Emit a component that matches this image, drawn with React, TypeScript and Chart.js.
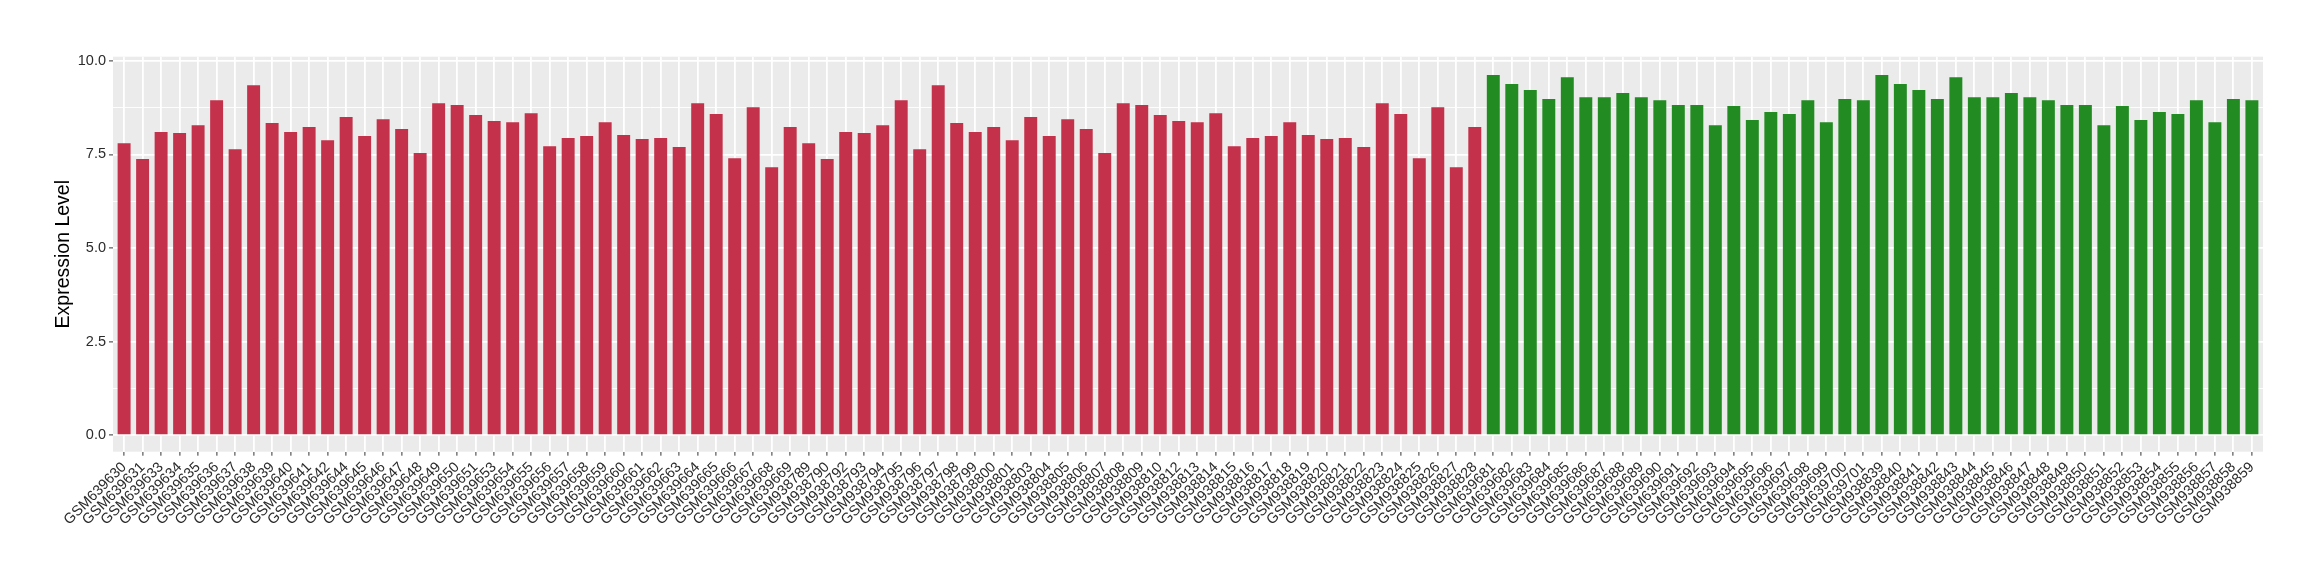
import React, { useEffect, useRef } from 'react';
import { Chart, registerables } from 'chart.js';

Chart.register(...registerables);

const groupASamples = [
  'GSM639630', 'GSM639631', 'GSM639633', 'GSM639634', 'GSM639635', 'GSM639636', 'GSM639637', 'GSM639638',
  'GSM639639', 'GSM639640', 'GSM639641', 'GSM639642', 'GSM639644', 'GSM639645', 'GSM639646', 'GSM639647',
  'GSM639648', 'GSM639649', 'GSM639650', 'GSM639651', 'GSM639653', 'GSM639654', 'GSM639655', 'GSM639656',
  'GSM639657', 'GSM639658', 'GSM639659', 'GSM639660', 'GSM639661', 'GSM639662', 'GSM639663', 'GSM639664',
  'GSM639665', 'GSM639666', 'GSM639667', 'GSM639668', 'GSM639669',
  'GSM938789', 'GSM938790', 'GSM938792', 'GSM938793', 'GSM938794', 'GSM938795', 'GSM938796', 'GSM938797',
  'GSM938798', 'GSM938799', 'GSM938800', 'GSM938801', 'GSM938803', 'GSM938804', 'GSM938805', 'GSM938806',
  'GSM938807', 'GSM938808', 'GSM938809', 'GSM938810', 'GSM938812', 'GSM938813', 'GSM938814', 'GSM938815',
  'GSM938816', 'GSM938817', 'GSM938818', 'GSM938819', 'GSM938820', 'GSM938821', 'GSM938822', 'GSM938823',
  'GSM938824', 'GSM938825', 'GSM938826', 'GSM938827', 'GSM938828',
];

const groupAValues = [
  7.80, 7.38, 8.10, 8.07, 8.28, 8.95, 7.64, 9.35, 8.34, 8.10, 8.23, 7.88, 8.50, 7.99, 8.44, 8.18,
  7.54, 8.87, 8.82, 8.55, 8.39, 8.36, 8.60, 7.72, 7.94, 7.99, 8.36, 8.02, 7.91, 7.94, 7.70, 8.87,
  8.58, 7.40, 8.76, 7.16, 8.23,
  7.80, 7.38, 8.10, 8.07, 8.28, 8.95, 7.64, 9.35, 8.34, 8.10, 8.23, 7.88, 8.50, 7.99, 8.44, 8.18,
  7.54, 8.87, 8.82, 8.55, 8.39, 8.36, 8.60, 7.72, 7.94, 7.99, 8.36, 8.02, 7.91, 7.94, 7.70, 8.87,
  8.58, 7.40, 8.76, 7.16, 8.23,
];

const groupBSamples = [
  'GSM639681', 'GSM639682', 'GSM639683', 'GSM639684', 'GSM639685', 'GSM639686', 'GSM639687', 'GSM639688',
  'GSM639689', 'GSM639690', 'GSM639691', 'GSM639692', 'GSM639693', 'GSM639694', 'GSM639695', 'GSM639696',
  'GSM639697', 'GSM639698', 'GSM639699', 'GSM639700', 'GSM639701',
  'GSM938839', 'GSM938840', 'GSM938841', 'GSM938842', 'GSM938843', 'GSM938844', 'GSM938845', 'GSM938846',
  'GSM938847', 'GSM938848', 'GSM938849', 'GSM938850', 'GSM938851', 'GSM938852', 'GSM938853', 'GSM938854',
  'GSM938855', 'GSM938856', 'GSM938857', 'GSM938858', 'GSM938859',
];

const groupBValues = [
  9.62, 9.38, 9.22, 8.98, 9.56, 9.03, 9.03, 9.14, 9.03, 8.95, 8.82, 8.82, 8.28, 8.79, 8.42, 8.63,
  8.58, 8.95, 8.36, 8.98, 8.95,
  9.62, 9.38, 9.22, 8.98, 9.56, 9.03, 9.03, 9.14, 9.03, 8.95, 8.82, 8.82, 8.28, 8.79, 8.42, 8.63,
  8.58, 8.95, 8.36, 8.98, 8.95,
];

const groupAColor = '#C4314B';
const groupBColor = '#228B22';
const yMajorTicks = [0, 2.5, 5, 7.5, 10];
const yMinorTicks = [1.25, 3.75, 6.25, 8.75];
const yTitle = 'Expression Level';
const FONT = '"Liberation Sans", Arial, Helvetica, sans-serif';

export default function App() {
  const ref = useRef<HTMLCanvasElement>(null);

  useEffect(() => {
    if (!ref.current) return;
    const categories = [...groupASamples, ...groupBSamples];
    const values = [...groupAValues, ...groupBValues];
    const colors = [
      ...groupASamples.map(() => groupAColor),
      ...groupBSamples.map(() => groupBColor),
    ];
    const yTickValues = [...yMajorTicks, ...yMinorTicks].sort((a, b) => a - b);
    const isMajor = (v: number) => yMajorTicks.some((m) => Math.abs(m - v) < 1e-9);

    const panelBg = {
      id: 'panelBg',
      beforeDraw(chart: any) {
        const { ctx, chartArea } = chart;
        ctx.save();
        ctx.fillStyle = '#EBEBEB';
        ctx.fillRect(chartArea.left, chartArea.top, chartArea.right - chartArea.left, chartArea.bottom - chartArea.top);
        ctx.restore();
      },
    };

    const chart = new Chart(ref.current, {
      type: 'bar',
      data: {
        datasets: [
          {
            data: values.map((v, i) => ({ x: i, y: v })),
            backgroundColor: colors,
            borderWidth: 0,
            categoryPercentage: 1,
            barPercentage: 0.7,
          } as any,
        ],
      },
      options: {
        responsive: false,
        animation: false,
        layout: { padding: { top: 56.7, right: 57, bottom: 0, left: 0 } },
        plugins: { legend: { display: false }, tooltip: { enabled: false } },
        scales: {
          x: {
            type: 'linear',
            min: -0.6,
            max: categories.length - 0.4,
            offset: false,
            afterBuildTicks: (s: any) => {
              s.ticks = categories.map((_, i) => ({ value: i }));
            },
            afterFit: (s: any) => {
              s.height = 128.3;
            },
            grid: {
              offset: false,
              color: '#FFFFFF',
              lineWidth: 1.8,
              tickColor: '#333333',
              tickLength: 4,
              tickWidth: 1,
            },
            border: { display: false },
            ticks: {
              autoSkip: false,
              minRotation: 45,
              maxRotation: 45,
              padding: 3,
              color: '#2B2B2B',
              font: { family: FONT, size: 14.5 },
              callback: (v: any) => categories[v as number] ?? '',
            },
          },
          y: {
            type: 'linear',
            min: -0.44,
            max: 10.11,
            afterBuildTicks: (s: any) => {
              s.ticks = yTickValues.map((v) => ({ value: v }));
            },
            afterFit: (s: any) => {
              s.width = 113;
            },
            grid: {
              color: '#FFFFFF',
              lineWidth: (c: any) => (isMajor(c.tick?.value) ? 1.8 : 0.9),
              tickColor: (c: any) => (isMajor(c.tick?.value) ? '#333333' : 'rgba(0,0,0,0)'),
              tickLength: 4,
              tickWidth: 1,
            },
            border: { display: false },
            ticks: {
              padding: 3,
              color: '#2B2B2B',
              font: { family: FONT, size: 14.5 },
              callback: (v: any) => (isMajor(v) ? Number(v).toFixed(1) : ''),
            },
            title: {
              display: true,
              text: yTitle,
              color: '#000000',
              font: { family: FONT, size: 19.5 },
              padding: { top: 52, bottom: 0 },
            },
          },
        },
      } as any,
      plugins: [panelBg],
    });
    return () => chart.destroy();
  }, []);

  return (
    <div style={{ position: 'fixed', left: 0, top: 0, width: 2320, height: 580, background: '#FFFFFF' }}>
      <canvas ref={ref} width={2320} height={580} style={{ display: 'block' }} />
    </div>
  );
}
